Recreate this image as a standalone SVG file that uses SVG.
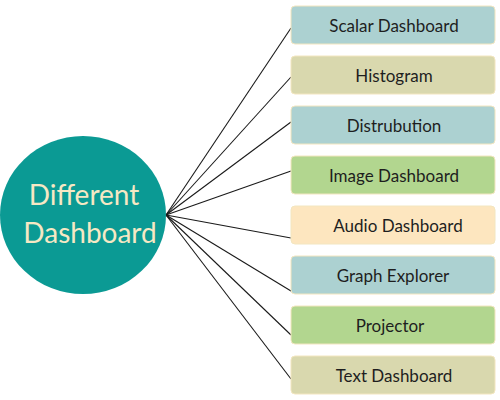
<svg xmlns="http://www.w3.org/2000/svg" width="500" height="400" viewBox="0 0 500 400">
  <style>
    .box { stroke: #f3e6c0; stroke-width: 1; }
    .lbl { font-family: Lato, "Open Sans", "Liberation Sans", sans-serif; font-size: 17px; fill: #1e1e1e; text-anchor: middle; }
    .hub-lbl { font-family: Lato, "Open Sans", "Liberation Sans", sans-serif; font-size: 28px; fill: #f6e8c4; text-anchor: middle; }
    .link { stroke: #1a1a1a; stroke-width: 1.1; fill: none; }
    .blue { fill: #acd1d1; }
    .olive { fill: #d9d8ae; }
    .green { fill: #b2d68f; }
    .cream { fill: #fde6bf; }
  </style>

  <g id="connectors">
    <line class="link" x1="166" y1="215" x2="291" y2="28"/>
    <line class="link" x1="166" y1="215" x2="291" y2="77"/>
    <line class="link" x1="166" y1="215" x2="291" y2="122"/>
    <line class="link" x1="166" y1="215" x2="291" y2="171"/>
    <line class="link" x1="166" y1="215" x2="291" y2="238"/>
    <line class="link" x1="166" y1="215" x2="291" y2="291"/>
    <line class="link" x1="166" y1="215" x2="291" y2="335"/>
    <line class="link" x1="166" y1="215" x2="291" y2="379"/>
  </g>

  <g id="hub">
    <ellipse cx="83" cy="215" rx="83" ry="79" fill="#0b9a94"/>
    <text class="hub-lbl" x="84" y="205">Different</text>
    <text class="hub-lbl" x="90" y="243">Dashboard</text>
  </g>

  <g id="scalar-dashboard">
    <rect class="box blue" x="291" y="6" width="204" height="38" rx="4"/>
    <text class="lbl" x="394" y="32">Scalar Dashboard</text>
  </g>
  <g id="histogram">
    <rect class="box olive" x="291" y="56" width="204" height="38" rx="4"/>
    <text class="lbl" x="394" y="82">Histogram</text>
  </g>
  <g id="distrubution">
    <rect class="box blue" x="291" y="106" width="204" height="38" rx="4"/>
    <text class="lbl" x="394" y="132">Distrubution</text>
  </g>
  <g id="image-dashboard">
    <rect class="box green" x="291" y="156" width="204" height="38" rx="4"/>
    <text class="lbl" x="394" y="182">Image Dashboard</text>
  </g>
  <g id="audio-dashboard">
    <rect class="box cream" x="291" y="206" width="204" height="38" rx="4"/>
    <text class="lbl" x="398" y="232">Audio Dashboard</text>
  </g>
  <g id="graph-explorer">
    <rect class="box blue" x="291" y="256" width="204" height="38" rx="4"/>
    <text class="lbl" x="393" y="282">Graph Explorer</text>
  </g>
  <g id="projector">
    <rect class="box green" x="291" y="306" width="204" height="38" rx="4"/>
    <text class="lbl" x="390" y="332">Projector</text>
  </g>
  <g id="text-dashboard">
    <rect class="box olive" x="291" y="356" width="204" height="38" rx="4"/>
    <text class="lbl" x="394" y="382">Text Dashboard</text>
  </g>
</svg>
